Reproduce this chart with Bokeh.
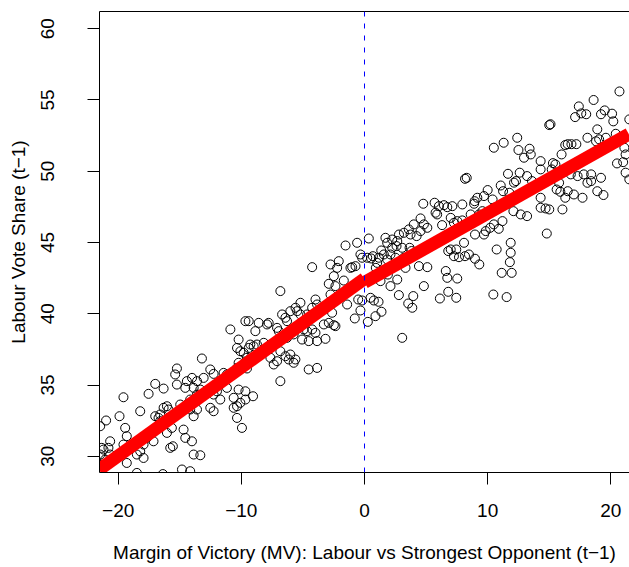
from bokeh.plotting import figure
from bokeh.models import LinearAxis, FixedTicker, Span, Range1d
from bokeh.embed import file_html
from bokeh.resources import INLINE

# Margin of victory (t-1) and Labour vote share (t-1)
mv = [20.7, 18.6, 17.4, 17.1, 17.6, 18.0, 19.2, 19.5, 20.1, 20.2, 21.5, 15.0, 15.1, 12.4, 11.3, 10.5, 12.5, 13.4, 12.95, 13.5,
      16.0, 16.3, 16.5, 16.8, 17.2, 18.1, 18.9, 19.05, 19.6, 18.8, 20.4, 20.5, 21.1, 21.2, 20.5, 21.0, 21.2, 21.5, 14.3, 14.3,
      15.3, 15.2, 15.5, 11.65, 12.6, 12.3, 13.2, 13.6, 8.16, 8.3, 10.0, 11.06, 11.25, 11.76, 12.14, 9.16, 8.94, 9.7, 10.4, 10.5,
      10.9, 11.46, 12.09, 12.68, 13.2, 14.3, 14.3, 14.7, 15.0, 16.07, 15.6, 15.9, 16.5, 17.0, 17.7, 18.9, 19.4, 17.3, 16.75, 17.8,
      18.4, 18.4, 19.2, 18.1, 16.3, 15.8, 4.77, 5.69, 6.04, 6.45, 6.72, 7.13, 7.94, 5.77, 5.9, 4.55, 4.82, 4.0, 3.6, 2.8,
      3.2, 3.74, 4.23, 4.55, 5.1, 6.3, 7.0, 7.26, 7.53, 7.94, 8.62, 9.3, 9.57, 8.9, 8.97, 9.84, 9.7, 10.2, 10.5, 10.9,
      11.2, 11.87, 14.8, 10.73, 11.87, 11.8, 11.14, 11.95, 7.53, 6.72, 6.6, 7.0, 6.8, 7.26, 7.67, 8.16, 8.48, 8.97, 9.32, 8.08,
      7.45, 4.82, 4.42, 5.1, 3.33, 2.66, 2.11, 1.9, 1.3, 2.52, 1.57, 1.84, 2.25, 2.6, 3.06, 3.66, 3.82, 3.2, 2.25, 1.84,
      1.36, 1.17, 2.11, -1.54, -0.6, 0.35, -0.33, -0.19, -0.73, -1.14, -1.0, -2.09, -2.76, -2.22, -2.49, -1.68, -2.9, -2.36, -4.25, 0.68,
      0.92, 1.03, 0.22, 0.54, 2.66, 1.7,
      10.46, 11.54, 6.12, 6.8, 7.45, 3.55, 3.96, 3.88, 2.79, 1.38, 0.89, 1.14, 0.76, 0.49, 0.27, -0.33, -0.79, -0.19, -0.51, -1.41,
      -2.63, -2.9, -3.3, -2.49, -2.36, -3.17, 3.06, -2.76, -4.25,
      -6.83, -3.98, -5.2, -5.6, -6.02, -6.69, -6.42, -6.29, -5.2, -5.47, -4.66, -4.25, -3.85, -5.2, -4.93, -4.66, -4.25, -3.98, -5.07, -4.53,
      -3.85, -5.75, -6.29, -6.96, -7.1, -7.78, -7.91, -8.59, -8.86, -9.4, -9.67, -9.27, -9.4, -9.0, -8.73, -8.18, -8.05, -7.64, -7.37, -7.1,
      -6.83, -6.42, -6.02, -6.15, -5.75, -5.61, -4.53, -3.85, -6.83, -9.05, -9.67, -10.08, -10.35, -10.62, -10.62, -10.22, -10.89, -10.22, -10.35, -10.08,
      -9.81, -9.54, -10.22, -10.35, -9.54, -9.67, -10.35, -9.95, -11.17, -11.17, -11.44, -11.71, -11.98, -12.25, -11.71, -12.25, -12.52, -13.2, -12.52, -12.25,
      -13.06, -13.6, -14.0, -14.42, -14.55, -13.87, -13.33, -13.6, -14.15, -14.42, -14.15, -13.87, -13.6, -15.23, -15.37, -15.23, -14.96, -14.69, -14.55, -14.01,
      -13.87, -13.33, -14.82, -14.15, -15.56, -15.77, -15.64, -16.04, -15.91, -16.04, -16.31, -16.59, -16.72, -16.99, -16.59, -16.31, -16.99, -17.53, -16.99, -17.67,
      -17.13, -17.94, -18.21, -17.94, -18.48, -18.75, -18.21, -19.43, -19.3, -19.57, -19.3, -18.48, -16.37, -19.57, -19.89, -20.65, -20.79, -21.19, -21.46, -20.65,
      -20.98, -21.46, -21.33, -21.46, -21.06, -20.38]
vote = [55.6, 55.0, 54.55, 53.8, 54.06, 54.0, 54.0, 54.27, 54.04, 53.5, 53.64, 53.24, 53.3, 52.35, 52.0, 51.65, 51.49, 51.58, 50.95, 51.18,
        51.18, 51.84, 51.9, 51.9, 51.9, 52.35, 52.94, 52.24, 52.35, 52.1, 52.63, 52.12, 51.65, 51.18, 50.55, 50.64, 49.9, 49.43, 50.71, 50.13,
        50.57, 50.13, 50.48, 49.82, 49.9, 49.31, 49.66, 49.31, 49.47, 49.54, 48.68, 49.0, 48.6, 48.49, 49.2, 48.14, 47.9, 48.26, 48.02, 47.44,
        47.55, 47.67, 47.2, 46.97, 46.85, 48.14, 47.44, 47.39, 47.32, 47.32, 48.72, 48.56, 48.6, 48.37, 48.14, 48.6, 48.33, 49.66, 49.78, 49.78,
        49.78, 49.31, 49.54, 49.19, 48.14, 49.19, 47.72, 47.79, 47.55, 47.62, 47.48, 47.55, 47.67, 47.09, 46.97, 46.69, 46.27, 46.27, 45.92, 45.56,
        45.68, 45.56, 45.45, 45.8, 46.03, 46.22, 46.73, 46.38, 46.5, 46.55, 46.97, 46.97, 47.2, 47.72, 45.56, 45.8, 45.56, 46.03, 46.27, 45.96,
        46.5, 44.98, 45.63, 44.51, 44.28, 43.62, 42.87, 42.87, 42.47, 42.52, 43.0, 44.51, 44.4, 44.04, 43.97, 44.04, 44.16, 43.86, 43.46, 44.98,
        44.51, 41.94, 43.34, 43.27, 43.22, 42.4, 41.94, 42.75, 42.29, 43.93, 44.16, 43.81, 44.63, 44.75, 44.63, 44.63, 44.4, 43.93, 45.21, 44.98,
        44.44, 43.93, 44.16, 44.79, 44.98, 45.28, 44.16, 43.93, 43.34, 43.22, 43.27, 43.69, 43.46, 43.22, 42.64, 42.33, 42.1, 41.94, 43.27, 44.04,
        43.22, 43.57, 43.93, 43.88, 45.1, 45.33,
        41.35, 41.17, 41.07, 41.54, 41.12, 40.72, 41.24, 40.42, 41.31, 40.14, 39.83, 40.84, 40.93, 41.12, 39.43, 40.23, 39.67, 40.93, 41.0, 40.65,
        40.07, 39.36, 39.25, 39.2, 39.13, 38.24, 38.31, 41.35, 39.83,
        41.59, 41.0, 40.77, 40.42, 40.18, 39.95, 39.72, 39.48, 39.95, 40.18, 39.95, 40.42, 40.65, 39.25, 38.9, 38.78, 38.9, 38.66, 38.19, 38.08,
        38.08, 38.55, 38.31, 38.78, 39.01, 39.36, 39.25, 39.36, 38.78, 39.48, 39.48, 37.84, 37.6, 37.72, 37.84, 37.96, 37.37, 36.91, 36.44, 36.67,
        37.37, 37.02, 37.14, 36.79, 36.56, 36.79, 36.09, 36.2, 35.27, 34.21, 33.98, 33.75, 33.51, 33.4, 34.1, 34.68, 38.9, 38.19, 37.6, 37.37,
        37.26, 36.91, 36.56, 36.2, 36.16, 34.56, 32.69, 31.99, 34.8, 35.74, 35.85, 35.27, 34.56, 34.33, 33.98, 33.16, 33.4, 36.86, 36.09, 35.78,
        35.5, 35.27, 35.5, 35.27, 34.8, 34.8, 34.68, 34.33, 33.98, 33.63, 33.28, 32.81, 33.28, 36.16, 35.74, 35.03, 33.63, 31.87, 31.29, 31.05,
        30.12, 30.07, 29.07, 28.95, 30.7, 30.59, 31.99, 31.64, 33.28, 33.51, 33.4, 32.93, 32.69, 32.81, 32.46, 34.75, 35.08, 34.38, 31.87, 31.29,
        31.05, 30.82, 30.35, 29.88, 30.12, 30.82, 33.16, 31.99, 31.41, 30.82, 29.53, 28.83, 28.75, 34.14, 32.81, 31.05, 30.59, 30.47, 30.12, 30.12,
        32.51, 32.11, 30.59, 29.42, 29.77, 29.88]

# fitted lines on each side of the cutoff
fit_left_x = [-21.57, 0.0]
fit_left_y = [29.05, 42.45]
fit_right_x = [0.0, 21.46]
fit_right_y = [42.2, 52.6]
cutoff = 0

x_ticks = [-20, -10, 0, 10, 20]
y_ticks = [30, 35, 40, 45, 50, 55, 60]

FONT = "Liberation Sans"

p = figure(width=629, height=567, title=None,
           x_range=Range1d(-21.515, 21.515), y_range=Range1d(28.86, 61.21),
           output_backend="svg", toolbar_location=None,
           min_border_left=99, min_border_right=0, min_border_top=11, min_border_bottom=95)
p.outline_line_color = None
p.xgrid.visible = False
p.ygrid.visible = False
p.background_fill_color = "white"
p.border_fill_color = "white"

p.scatter(mv, vote, marker="circle", size=9, fill_color=None, line_color="black", line_width=1)
p.line(fit_left_x, fit_left_y, line_color="red", line_width=13, line_cap="butt")
p.line(fit_right_x, fit_right_y, line_color="red", line_width=13, line_cap="butt")
p.add_layout(Span(location=cutoff, dimension="height", line_color="blue", line_width=1, line_dash="5 7"))

def minus(v):
    return str(v).replace("-", "\u2212")

for ax, ticks in ((p.xaxis[0], x_ticks), (p.yaxis[0], y_ticks)):
    ax.ticker = FixedTicker(ticks=ticks)
    ax.major_label_overrides = {t: minus(t) for t in ticks}
    ax.axis_line_color = "black"
    ax.axis_line_width = 1
    ax.major_tick_line_color = "black"
    ax.major_tick_out = 12
    ax.major_tick_in = 0
    ax.minor_tick_out = 0
    ax.minor_tick_in = 0
    ax.major_label_text_font = FONT
    ax.major_label_text_font_size = "19px"
    ax.major_label_text_color = "black"
    ax.axis_label_text_font = FONT
    ax.axis_label_text_font_size = "19px"
    ax.axis_label_text_font_style = "normal"
    ax.axis_label_text_color = "black"

p.xaxis[0].axis_label = "Margin of Victory (MV): Labour vs Strongest Opponent (t\u22121)"
p.yaxis[0].axis_label = "Labour Vote Share (t\u22121)"
p.xaxis[0].major_label_standoff = 19
p.xaxis[0].axis_label_standoff = 22
p.yaxis[0].major_label_standoff = 33
p.yaxis[0].axis_label_standoff = 10
p.yaxis[0].major_label_orientation = "vertical"

top = LinearAxis(ticker=FixedTicker(ticks=[]), major_tick_out=0, major_tick_in=0,
                 minor_tick_out=0, minor_tick_in=0, major_label_text_font_size="0px",
                 major_label_standoff=0, axis_line_color="black")
p.add_layout(top, "above")

open("out.html", "w").write(file_html(p, INLINE))
